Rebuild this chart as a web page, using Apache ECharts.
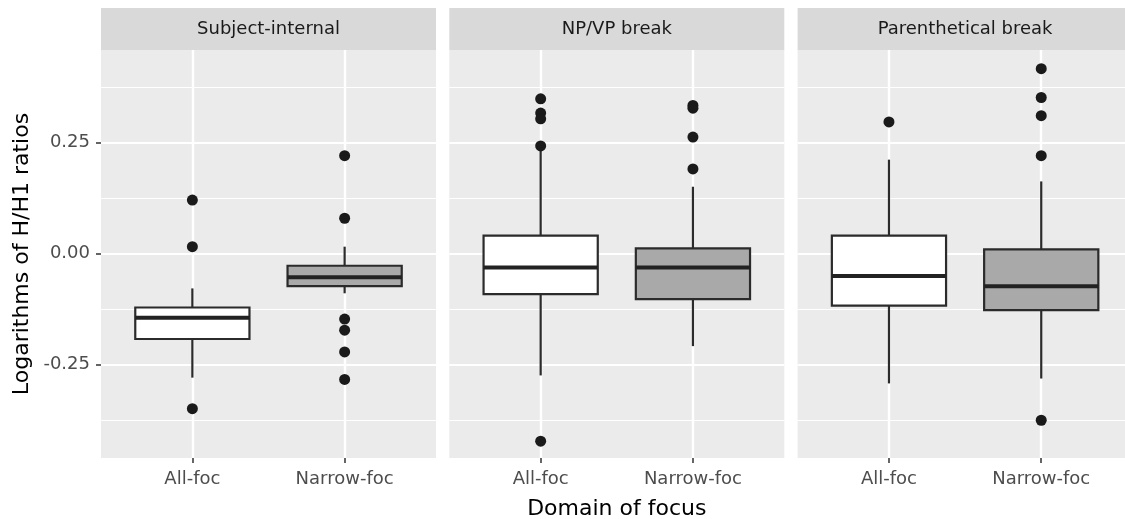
<!DOCTYPE html>
<html>
<head>
<meta charset="utf-8">
<script src="https://cdn.jsdelivr.net/npm/echarts@6/dist/echarts.min.js"></script>
<style>html,body{margin:0;padding:0;background:#fff}#c{width:1125px;height:519px}</style>
</head>
<body>
<div id="c"></div>
<script>
const facets = ['Subject-internal', 'NP/VP break', 'Parenthetical break'];
const categories = ['All-foc', 'Narrow-foc'];
const yTicks = [-0.25, 0, 0.25];
const yMinorTicks = [-0.375, -0.125, 0.125, 0.375];
const xTitle = 'Domain of focus';
const yTitle = 'Logarithms of H/H1 ratios';

// [lower whisker, Q1, median, Q3, upper whisker] per category
const subjectInternalBoxes = [
  [-0.280, -0.193, -0.145, -0.122, -0.079],
  [-0.090, -0.074, -0.054, -0.028, 0.015]
];
const npVpBreakBoxes = [
  [-0.275, -0.092, -0.032, 0.040, 0.238],
  [-0.209, -0.103, -0.032, 0.011, 0.150]
];
const parentheticalBreakBoxes = [
  [-0.293, -0.118, -0.051, 0.040, 0.211],
  [-0.282, -0.128, -0.074, 0.009, 0.162]
];
// outliers per category
const subjectInternalOutliers = [
  [0.120, 0.015, -0.350],
  [0.220, 0.079, -0.148, -0.173, -0.222, -0.284]
];
const npVpBreakOutliers = [
  [0.348, 0.316, 0.303, 0.242, -0.423],
  [0.333, 0.327, 0.262, 0.190]
];
const parentheticalBreakOutliers = [
  [0.296],
  [0.416, 0.351, 0.310, 0.220, -0.376]
];
const boxFills = ['#FFFFFF', '#A9A9A9'];

const allBoxes = [subjectInternalBoxes, npVpBreakBoxes, parentheticalBreakBoxes];
const allOutliers = [subjectInternalOutliers, npVpBreakOutliers, parentheticalBreakOutliers];

const chart = echarts.init(document.getElementById('c'), null, {renderer: 'canvas'});

const panelLefts = [101, 449.3, 797.6];
const panelW = 335;
const panelTop = 50;
const panelBottom = 61;
const stripTop = 8;
const stripH = 42;
const FONT = 'DejaVu Sans';
const yMin = -0.461, yMax = 0.458;

const grids = [], xAxes = [], yAxes = [], series = [], graphics = [];

facets.forEach((f, i) => {
  grids.push({left: panelLefts[i], width: panelW, top: panelTop, bottom: panelBottom,
    show: true, backgroundColor: '#EBEBEB', borderWidth: 0, containLabel: false,
    outerBoundsMode: 'none'});
  xAxes.push({
    type: 'value', gridIndex: i, min: 0.4, max: 2.6, position: 'bottom',
    axisLine: {show: false, onZero: false},
    axisTick: {show: true, length: 5, lineStyle: {color: '#333333', width: 1.5}, customValues: [1, 2]},
    axisLabel: {show: true, customValues: [1, 2], margin: 12,
      formatter: v => categories[Math.round(v) - 1] || '',
      color: '#4D4D4D', fontFamily: FONT, fontSize: 18},
    splitLine: {show: true, lineStyle: {color: '#FFFFFF', width: 2.4}},
    name: i === 1 ? xTitle : '', nameLocation: 'middle', nameGap: 40,
    nameTextStyle: {color: '#000000', fontFamily: FONT, fontSize: 22}
  });
  yAxes.push({
    type: 'value', gridIndex: i, min: yMin, max: yMax, position: 'left',
    axisLine: {show: false, onZero: false},
    axisTick: {show: i === 0, length: 5, lineStyle: {color: '#333333', width: 1.5}, customValues: yTicks},
    axisLabel: {show: i === 0, customValues: yTicks, margin: 11,
      formatter: v => v.toFixed(2),
      color: '#4D4D4D', fontFamily: FONT, fontSize: 18},
    splitLine: {show: true, lineStyle: {color: '#FFFFFF', width: 2.2}},
    name: i === 0 ? yTitle : '', nameLocation: 'middle', nameGap: 68, nameRotate: 90,
    nameTextStyle: {color: '#000000', fontFamily: FONT, fontSize: 22}
  });
  // minor grid lines axis
  yAxes.push({
    type: 'value', gridIndex: i, min: yMin, max: yMax, position: 'right',
    axisLine: {show: false, onZero: false},
    axisTick: {show: false, customValues: yMinorTicks},
    axisLabel: {show: false, customValues: yMinorTicks},
    splitLine: {show: true, lineStyle: {color: '#FFFFFF', width: 1.1}}
  });

  const boxData = allBoxes[i].map((b, k) => [k + 1, b[0], b[1], b[2], b[3], b[4], k]);
  series.push({
    type: 'custom', xAxisIndex: i, yAxisIndex: 2 * i, data: boxData, z: 3,
    renderItem: (params, api) => {
      const x = api.value(0);
      const lo = api.coord([x, api.value(1)]);
      const q1 = api.coord([x, api.value(2)]);
      const md = api.coord([x, api.value(3)]);
      const q3 = api.coord([x, api.value(4)]);
      const hi = api.coord([x, api.value(5)]);
      const w = api.size([0.75, 0])[0];
      const fill = boxFills[api.value(6)];
      const ls = {stroke: '#2B2B2B', lineWidth: 2.2};
      return {type: 'group', children: [
        {type: 'line', shape: {x1: lo[0], y1: lo[1], x2: q1[0], y2: q1[1]}, style: ls},
        {type: 'line', shape: {x1: q3[0], y1: q3[1], x2: hi[0], y2: hi[1]}, style: ls},
        {type: 'rect', shape: {x: q3[0] - w / 2, y: q3[1], width: w, height: q1[1] - q3[1]},
          style: {fill: fill, stroke: '#2B2B2B', lineWidth: 2.2}},
        {type: 'line', shape: {x1: md[0] - w / 2, y1: md[1], x2: md[0] + w / 2, y2: md[1]},
          style: {stroke: '#222222', lineWidth: 4}}
      ]};
    }
  });
  const pts = [];
  allOutliers[i].forEach((arr, k) => arr.forEach(v => pts.push([k + 1, v])));
  series.push({
    type: 'scatter', xAxisIndex: i, yAxisIndex: 2 * i, data: pts, z: 4,
    symbol: 'circle', symbolSize: 11, itemStyle: {color: '#1A1A1A', opacity: 1}, silent: true
  });

  graphics.push({type: 'rect', left: panelLefts[i], top: stripTop,
    shape: {width: panelW, height: stripH}, style: {fill: '#D9D9D9'}, silent: true});
  graphics.push({type: 'text', x: panelLefts[i] + panelW / 2, y: stripTop + stripH / 2,
    style: {text: f, fill: '#1A1A1A', font: '18px "' + FONT + '"', align: 'center', verticalAlign: 'middle'}, silent: true});
});

chart.setOption({
  animation: false,
  backgroundColor: '#FFFFFF',
  grid: grids, xAxis: xAxes, yAxis: yAxes, series: series, graphic: graphics
});
</script>
</body>
</html>
